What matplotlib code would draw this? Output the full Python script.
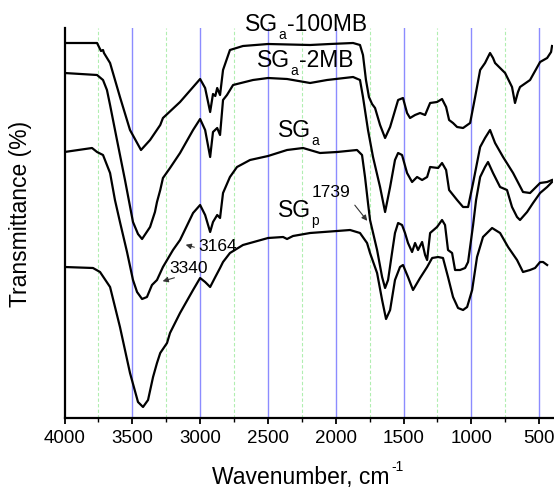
import matplotlib
matplotlib.use('Agg')
import matplotlib.pyplot as plt
from matplotlib.ticker import MultipleLocator

plt.rcParams['font.family'] = 'Liberation Sans'

# FTIR spectra, offset vertically (arbitrary transmittance units)
wn_100mb = [4000, 3760, 3731, 3716, 3709, 3664, 3591, 3517, 3436, 3369, 3294, 3274, 3148,
            3000, 2963, 2926, 2905, 2888, 2874, 2853, 2831, 2780, 2684, 2499, 2189, 2042,
            1872, 1821, 1799, 1777, 1755, 1732, 1710, 1673, 1636, 1599, 1577, 1540, 1504,
            1474, 1452, 1415, 1378, 1341, 1304, 1253, 1216, 1186, 1164, 1135, 1105, 1061,
            1009, 972, 935, 899, 877, 862, 840, 825, 751, 700, 678, 656, 641, 567, 493,
            441, 412, 405]
t_100mb = [375, 375, 367, 368, 365, 355, 321, 288, 268, 278, 293, 300, 316,
           339, 330, 306, 324, 322, 330, 323, 348, 368, 372, 374, 373, 374,
           375, 373, 363, 338, 321, 314, 310, 293, 280, 291, 301, 318, 320,
           305, 300, 303, 305, 303, 315, 316, 319, 311, 298, 295, 291, 290,
           295, 321, 348, 355, 361, 365, 360, 355, 345, 331, 315, 326, 331, 338, 356,
           360, 366, 372]

wn_2mb = [4000, 3760, 3716, 3687, 3664, 3613, 3554, 3495, 3458, 3428, 3369, 3333, 3318,
          3294, 3274, 3222, 3148, 3052, 3000, 2963, 2926, 2905, 2874, 2853, 2831, 2802,
          2757, 2728, 2610, 2499, 2359, 2189, 2064, 1872, 1821, 1799, 1762, 1725, 1673,
          1636, 1599, 1563, 1540, 1511, 1474, 1437, 1400, 1363, 1326, 1304, 1245, 1216,
          1186, 1164, 1105, 1061, 1024, 987, 935, 899, 862, 825, 766, 692, 619, 567,
          493, 441, 405]
t_2mb = [345, 343, 338, 328, 313, 278, 238, 196, 184, 179, 191, 206, 216,
         228, 240, 250, 265, 288, 299, 288, 261, 286, 290, 283, 318, 323,
         333, 334, 338, 340, 339, 335, 338, 341, 338, 321, 288, 261, 231,
         206, 231, 258, 265, 263, 245, 236, 241, 238, 241, 251, 250, 255,
         248, 228, 218, 211, 211, 235, 271, 280, 288, 275, 261, 245, 226, 225,
         235, 236, 238]

wn_sga = [4000, 3797, 3760, 3716, 3664, 3628, 3591, 3539, 3495, 3465, 3428, 3392, 3355,
          3318, 3274, 3200, 3148, 3052, 3000, 2963, 2926, 2905, 2874, 2853, 2831, 2780,
          2728, 2632, 2499, 2359, 2241, 2116, 1990, 1843, 1806, 1784, 1762, 1747, 1695,
          1658, 1636, 1614, 1585, 1563, 1540, 1511, 1489, 1467, 1437, 1415, 1393, 1363,
          1341, 1326, 1304, 1253, 1216, 1194, 1172, 1142, 1120, 1083, 1046, 1024, 987,
          965, 935, 899, 877, 840, 788, 737, 700, 663, 641, 589, 545, 493, 441, 405]
t_sga = [266, 270, 266, 263, 245, 218, 196, 166, 138, 126, 119, 121, 133,
         138, 151, 168, 178, 205, 213, 203, 186, 196, 203, 200, 225, 241,
         251, 258, 262, 268, 270, 265, 266, 268, 263, 241, 215, 198, 168,
         141, 130, 138, 165, 185, 195, 193, 185, 175, 166, 175, 168, 176,
         163, 158, 185, 191, 198, 193, 168, 165, 148, 148, 150, 156, 193,
         218, 241, 251, 256, 245, 231, 228, 211, 201, 198, 206, 215, 225, 231, 236]

wn_sgp = [4000, 3790, 3738, 3664, 3591, 3517, 3458, 3421, 3384, 3347, 3318, 3294, 3244,
          3222, 3148, 3052, 3000, 2963, 2926, 2888, 2853, 2831, 2780, 2684, 2499, 2388,
          2359, 2315, 2189, 1990, 1894, 1821, 1769, 1747, 1695, 1658, 1629, 1599, 1563,
          1526, 1504, 1467, 1430, 1378, 1326, 1289, 1245, 1209, 1172, 1135, 1098, 1061,
          1031, 994, 958, 914, 847, 788, 729, 663, 619, 567, 530, 493, 471, 441]
t_sgp = [151, 150, 146, 131, 91, 45, 16, 11, 18, 41, 55, 65, 75,
         85, 105, 128, 140, 136, 131, 141, 150, 156, 165, 173, 180, 181,
         179, 182, 185, 187, 188, 185, 175, 165, 145, 118, 99, 108, 138,
         151, 153, 141, 128, 140, 151, 160, 161, 160, 141, 121, 110, 108,
         111, 128, 161, 181, 190, 185, 171, 158, 146, 148, 150, 156, 156, 153]

fig = plt.figure(figsize=(5.54, 4.91), dpi=100)
ax = fig.add_axes([64.5 / 554, 73 / 491, 488.2 / 554, 390 / 491])

# vertical guide lines
for w in range(3500, 400, -500):
    ax.axvline(w, color='#8c8cff', lw=1.0, zorder=0)
for w in range(3750, 400, -500):
    ax.axvline(w, color='#b0eeb0', lw=0.8, ls=(0, (3, 2)), zorder=0)

for wn, t in [(wn_100mb, t_100mb), (wn_2mb, t_2mb), (wn_sga, t_sga), (wn_sgp, t_sgp)]:
    ax.plot(wn, t, color='black', lw=1.6)

ax.set_xlim(4000, 400)
ax.set_ylim(0, 390)
ax.xaxis.set_major_locator(MultipleLocator(500))
ax.xaxis.set_minor_locator(MultipleLocator(250))
ax.tick_params(axis='x', which='major', direction='out', length=4.5, width=1.3,
               labelsize=13.5, pad=4)
ax.tick_params(axis='x', which='minor', direction='out', length=3, width=1.0)
ax.set_yticks([])
for s in ['top', 'right']:
    ax.spines[s].set_visible(False)
for s in ['left', 'bottom']:
    ax.spines[s].set_linewidth(1.6)

ax.set_xlabel('Wavenumber, cm', fontsize=16.5, labelpad=14)
ax.xaxis.label.set_x(0.484)
ax.set_ylabel('Transmittance (%)', fontsize=16.5)
ax.yaxis.set_label_coords(-0.066, 0.523)

# superscript on the x label
fig.canvas.draw()
bb = ax.xaxis.label.get_window_extent()
fig.text((bb.x1 + 2) / 554, (bb.y1 - 8) / 491, '-1', fontsize=10, va='bottom')


def sample_label(x, y, sub, rest=''):
    # main text, lowered subscript, then the suffix
    ax.text(x, y, 'SG', fontsize=16.5, va='baseline')
    ax.annotate(sub, (x, y), xytext=(24, -5.8), textcoords='offset points',
                fontsize=10, va='baseline')
    if rest:
        ax.annotate(rest, (x, y), xytext=(30, 0), textcoords='offset points',
                    fontsize=16.5, va='baseline')


sample_label(2669, 387, 'a', '-100MB')
sample_label(2580, 351, 'a', '-2MB')
sample_label(2425, 281, 'a')
sample_label(2425, 201, 'p')

# band annotations
arrow = dict(arrowstyle='-|>', color='#333333', lw=0.8, mutation_scale=8)
ax.text(2175, 221, '1739', fontsize=12.5, va='baseline')
ax.annotate('', xy=(1755, 195), xytext=(1872, 215), arrowprops=arrow)
ax.text(3015, 167, '3164', fontsize=12.5, va='baseline')
ax.annotate('', xy=(3126, 174), xytext=(3023, 170), arrowprops=arrow)
ax.text(3229, 145, '3340', fontsize=12.5, va='baseline')
ax.annotate('', xy=(3296, 136), xytext=(3170, 141), arrowprops=arrow)

fig.savefig('out.png', dpi=100)
